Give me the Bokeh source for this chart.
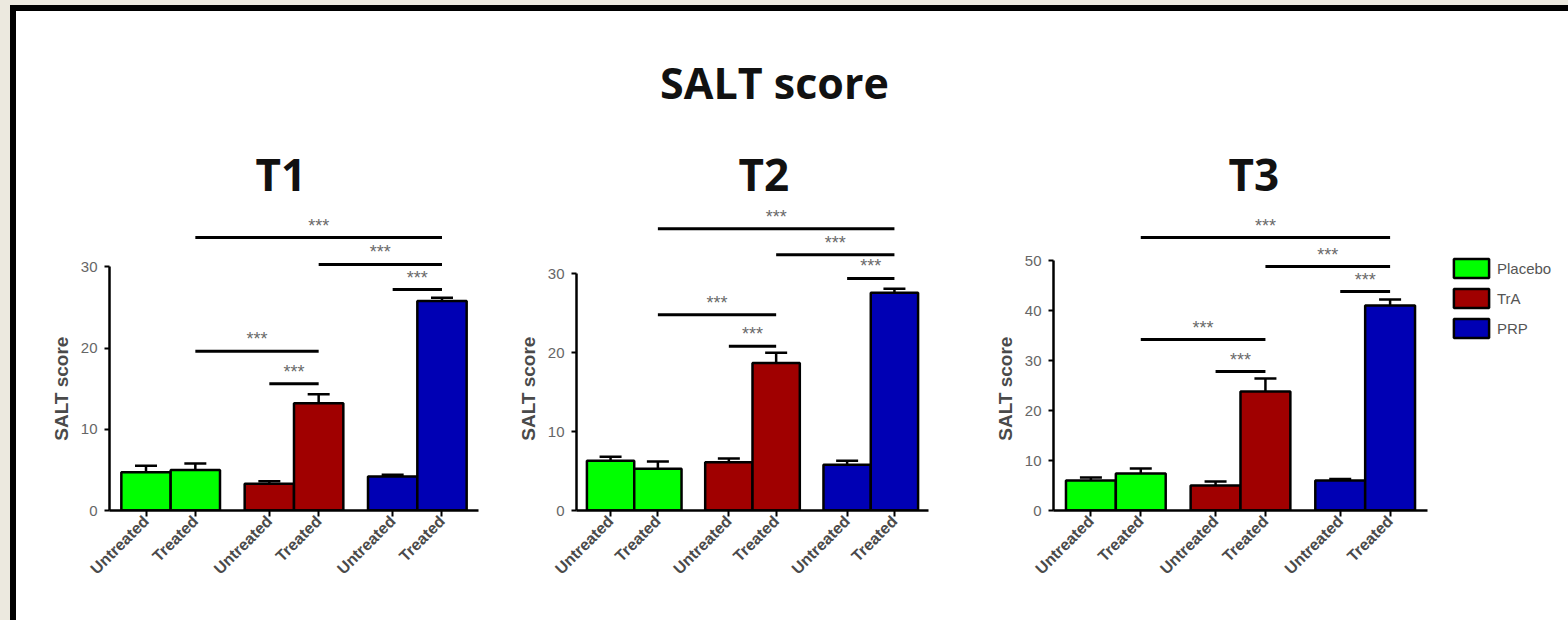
import math
import numpy as np
from bokeh.plotting import figure
from bokeh.models import (FactorRange, Range1d, ColumnDataSource, Whisker, TeeHead,
                          Legend, LegendItem, FixedTicker, Spacer)
from bokeh.layouts import row, column
from bokeh.embed import file_html
from bokeh.resources import INLINE
from bokeh.core.properties import value

# ---------------- data ----------------
groups = ["Placebo", "TrA", "PRP"]
statuses = ["Untreated", "Treated"]
group_colors = ["#00FF00", "#A00000", "#0000B4"]

t1_mean = [4.7, 5.0, 3.3, 13.2, 4.2, 25.8]
t1_err = [5.5, 5.8, 3.6, 14.3, 4.4, 26.2]
t2_mean = [6.3, 5.3, 6.1, 18.7, 5.8, 27.6]
t2_err = [6.8, 6.2, 6.6, 20.0, 6.3, 28.1]
t3_mean = [6.0, 7.4, 5.0, 23.8, 6.0, 41.0]
t3_err = [6.6, 8.4, 5.8, 26.4, 6.3, 42.2]

# significance brackets: from bar index, to bar index, height
t1_sig_from = [1, 3, 4, 1, 2]
t1_sig_to = [5, 5, 5, 3, 3]
t1_sig_y = [33.6, 30.3, 27.2, 19.6, 15.6]
t2_sig_from = [1, 3, 4, 1, 2]
t2_sig_to = [5, 5, 5, 3, 3]
t2_sig_y = [35.7, 32.4, 29.4, 24.8, 20.8]
t3_sig_from = [1, 3, 4, 1, 2]
t3_sig_to = [5, 5, 5, 3, 3]
t3_sig_y = [54.6, 48.8, 43.8, 34.2, 27.8]
sig_label = "***"

t1_ticks = [0, 10, 20, 30]
t2_ticks = [0, 10, 20, 30]
t3_ticks = [0, 10, 20, 30, 40, 50]

y_label = "SALT score"

# ---------------- styling ----------------
GP = 0.5
TXT = "#4a4a4a"
SANS = "Liberation Sans"
TITLE_FONT = "Open Sans"
CREAM = "#ECE9DF"
ROW_H = 491
MBT = 74
MBB = 110
NBSP = "\u00a0"

factors = [(g, s) for g in groups for s in statuses]
bar_colors = [group_colors[groups.index(g)] for g, _ in factors]


def synth(i):
    # synthetic categorical coordinate of factor i (FactorRange rules)
    return (i // 2) * (2 + GP) + (i % 2) + 0.5


def make_panel(title, means, errs, sig_from, sig_to, sig_y, ticks, y_end,
               width, mbl, mbr, title_off, pad):
    src = ColumnDataSource(dict(x=factors, top=means, err=errs, color=bar_colors))
    p = figure(x_range=FactorRange(*factors, group_padding=GP, factor_padding=0,
                                   range_padding=pad, range_padding_units="absolute"),
               y_range=Range1d(0, y_end), width=width, height=ROW_H,
               toolbar_location=None, output_backend="svg",
               min_border_left=mbl, min_border_right=mbr, min_border_bottom=MBB,
               min_border_top=MBT)
    p.title.text = title
    p.title.align = "left"
    p.title.offset = title_off
    p.title.standoff = 0
    p.title.text_font = TITLE_FONT
    p.title.text_font_size = "44px"
    p.title.text_font_style = "bold"
    p.title.text_color = "#111111"

    p.vbar(x="x", top="top", width=1.0, source=src, fill_color="color",
           line_color="black", line_width=2.5)
    wh = Whisker(base="x", upper="err", lower="top", source=src, line_width=2.5,
                 upper_head=TeeHead(size=22, line_width=2.5, line_color="black"),
                 lower_head=None, line_color="black", level="overlay")
    p.add_layout(wh)

    ssrc = ColumnDataSource(dict(
        x0=[factors[a] for a in sig_from], x1=[factors[b] for b in sig_to],
        y=sig_y, xm=[(synth(a) + synth(b)) / 2 for a, b in zip(sig_from, sig_to)],
        t=[sig_label] * len(sig_y)))
    p.segment(x0="x0", y0="y", x1="x1", y1="y", source=ssrc, line_width=3, line_color="black")
    p.text(x="xm", y="y", text="t", source=ssrc, text_align="center", text_baseline="bottom",
           y_offset=-2, text_font=value(SANS), text_font_size="18px", text_color="#6a6a6a")

    p.grid.visible = False
    p.outline_line_color = None
    p.background_fill_color = "white"
    p.border_fill_color = "white"

    ya = p.yaxis[0]
    ya.ticker = FixedTicker(ticks=ticks)
    ya.bounds = (ticks[0], ticks[-1])
    # label centred on the 0..max axis line rather than on the whole frame
    ya.axis_label = y_label + NBSP * 12
    ya.axis_label_text_font = SANS
    ya.axis_label_text_font_style = "bold"
    ya.axis_label_text_font_size = "19px"
    ya.axis_label_text_color = TXT
    ya.axis_label_standoff = 6
    ya.major_label_text_font = SANS
    ya.major_label_text_font_size = "15px"
    ya.major_label_text_color = "#666666"
    ya.major_label_standoff = 7
    ya.major_tick_out = 5
    ya.major_tick_in = 0
    ya.minor_tick_out = 0
    ya.minor_tick_in = 0
    ya.axis_line_width = 2.5
    ya.major_tick_line_width = 2

    xa = p.xaxis[0]
    xa.major_label_orientation = math.pi / 4
    xa.major_label_text_font = SANS
    xa.major_label_text_font_size = "16px"
    xa.major_label_text_font_style = "bold"
    xa.major_label_text_color = TXT
    xa.group_text_font_size = "0px"
    xa.group_text_color = None
    xa.separator_line_color = None
    xa.major_tick_out = 6
    xa.major_tick_in = 0
    xa.axis_line_width = 2.5
    xa.major_tick_line_width = 2
    xa.major_label_standoff = 2
    return p


p1 = make_panel("T1", t1_mean, t1_err, t1_sig_from, t1_sig_to, t1_sig_y, t1_ticks, 37.8,
                489, 93, 27, 146, 0.24)
p2 = make_panel("T2", t2_mean, t2_err, t2_sig_from, t2_sig_to, t2_sig_y, t2_ticks, 38.9,
                480, 71, 57, 162, 0.22)
p3 = make_panel("T3", t3_mean, t3_err, t3_sig_from, t3_sig_to, t3_sig_y, t3_ticks, 61.4,
                447, 68, 5, 175, 0.25)

# legend column (own figure so that it may sit outside the T3 axes);
# its proxy bars carry the group colours but no position, so nothing is drawn there
lsrc = ColumnDataSource(dict(x=np.full(len(factors), np.nan), top=np.array(t3_mean),
                             color=bar_colors))
pl = figure(x_range=Range1d(0, 1), y_range=Range1d(0, 1),
            width=136, height=ROW_H, toolbar_location=None, output_backend="svg",
            x_axis_location=None, y_axis_location=None,
            min_border_left=0, min_border_right=0, min_border_top=MBT, min_border_bottom=MBB)
lr = pl.vbar(x="x", top="top", width=1.0, source=lsrc, fill_color="color",
             line_color="black", line_width=2.5)
pl.grid.visible = False
pl.outline_line_color = None
lg = Legend(items=[LegendItem(label=g, renderers=[lr], index=2 * i)
                   for i, g in enumerate(groups)],
            location=(17, 170), padding=0, margin=0, spacing=6,
            glyph_width=44, glyph_height=24, label_height=24, label_standoff=4,
            label_text_font=SANS, label_text_font_size="15px",
            label_text_color="#555555", border_line_color=None,
            background_fill_alpha=0)
pl.add_layout(lg)

top = figure(width=1552, height=118, toolbar_location=None, output_backend="svg",
             x_range=Range1d(0, 1), y_range=Range1d(0, 1),
             x_axis_location=None, y_axis_location=None,
             min_border_left=0, min_border_right=36, min_border_bottom=0, min_border_top=100)
top.title.text = "SALT score"
top.title.align = "center"
top.title.standoff = 0
top.title.text_font = TITLE_FONT
top.title.text_font_size = "43px"
top.title.text_font_style = "bold"
top.title.text_color = "#111111"
top.grid.visible = False
top.outline_line_color = None

content = column(top, row(p1, p2, p3, pl))

frame = row(
    Spacer(width=10, height=615, styles={"background-color": CREAM}),
    column(
        Spacer(width=1558, height=6, styles={"background-color": "black"}),
        row(Spacer(width=6, height=609, styles={"background-color": "black"}), content),
    ),
)
page = column(Spacer(width=1568, height=5, styles={"background-color": CREAM}), frame)

open("out.html", "w").write(file_html(page, INLINE))
